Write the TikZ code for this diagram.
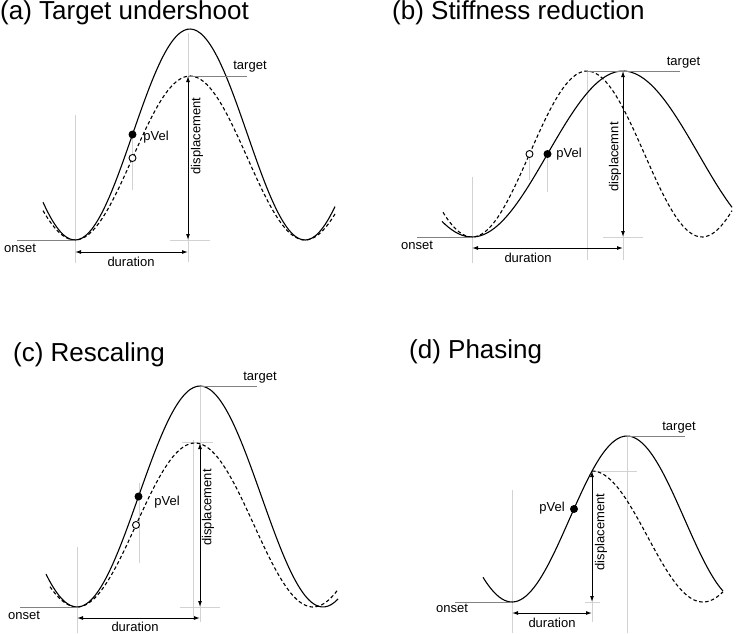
\documentclass[tikz,border=0pt]{standalone}
\usepackage{fontspec}
\setmainfont{Liberation Sans}
\usepackage{tikz}
\usetikzlibrary{arrows.meta,positioning}
\definecolor{guidegray}{RGB}{210,210,210}
\definecolor{leadgray}{RGB}{130,130,130}

\begin{document}
\begin{tikzpicture}[x=1pt,y=-1pt,
  every node/.style={font=\fontsize{13}{15}\selectfont,inner sep=0pt},
  ttl/.style={font=\fontsize{26}{30}\selectfont,anchor=base west},
  curve/.style={line width=1.1pt,smooth,samples=90},
  dcurve/.style={curve,dash pattern=on 3.5pt off 2.5pt},
  guide/.style={guidegray,line width=0.8pt},
  lead/.style={leadgray,line width=0.9pt},
  dim/.style={{Latex[length=6pt,width=4pt]}-{Latex[length=6pt,width=4pt]},line width=1pt},
  fdot/.style={circle,fill=black,minimum size=8pt},
  odot/.style={circle,draw=black,fill=white,line width=0.9pt,minimum size=7pt}]
\useasboundingbox (0,0) rectangle (740,633);

% (a) target undershoot
\node[ttl] (titleA) at (0,19.5) {(a) Target undershoot};
\draw[guide] (75,115)--(75,263);
\draw[guide] (132.5,133)--(132.5,190);
\draw[guide] (188,33)--(188,262);
\draw[guide] (170,240)--(210,240);
\draw[curve] plot[domain=43:335] (\x,{134.5+105.5*cos((\x-75)/115*180)});
\draw[dcurve] plot[domain=43:335] (\x,{158+82*cos((\x-75)/115*180)});
\coordinate (topA) at (188,76);
\coordinate (botA) at (188,240);
\coordinate (tgtA) at (247,76);
\coordinate (onA) at (75,240);
\coordinate (onEndA) at (17,240);
\coordinate (durL) at (75,252);
\coordinate (durR) at (188,252);
\draw[lead] (topA)--(tgtA);
\draw[lead] (onEndA)--(onA);
\draw[dim] (topA)--(botA);
\draw[dim] (durL)--(durR);
\node[fdot] (velA) at (132.5,134.5) {};
\node[odot] (velAo) at (132.5,158) {};
\node (pvelA) at (156,137) {pVel};
\node (targetA) at (250,67) {target};
\node (onsetA) at (20,248) {onset};
\node (durA) at (131,262) {duration};
\node[rotate=90] (dispA) at (197,136) {displacement};

% (b) stiffness reduction
\node[ttl] (titleB) at (392,19.5) {(b) Stiffness reduction};
\draw[guide] (472,177)--(472,263);
\draw[guide] (529.5,154)--(529.5,180);
\draw[guide] (547.5,154)--(547.5,192);
\draw[guide] (587,72)--(587,260);
\draw[guide] (623,71)--(623,260);
\draw[guide] (603,237)--(643,237);
\draw[curve] plot[domain=442:732] (\x,{154+83*cos((\x-472)/151*180)});
\draw[dcurve] plot[domain=443:732] (\x,{154+83*cos((\x-472)/115*180)});
\coordinate (pkB) at (587,71);
\coordinate (topB) at (623,71);
\coordinate (botB) at (623,237);
\coordinate (tgtB) at (680,71);
\coordinate (onB) at (472,237);
\coordinate (onEndB) at (417,237);
\coordinate (durBL) at (472,248);
\coordinate (durBR) at (623,248);
\draw[lead] (pkB)--(tgtB);
\draw[lead] (onEndB)--(onB);
\draw[dim] (topB)--(botB);
\draw[dim] (durBL)--(durBR);
\node[odot] (velBo) at (529.5,154) {};
\node[fdot] (velB) at (547.5,154) {};
\node (pvelB) at (569,154) {pVel};
\node (targetB) at (683.5,63) {target};
\node (onsetB) at (417,245) {onset};
\node (durB) at (528,258) {duration};
\node[rotate=90] (dispB) at (615,157) {displacemnt};

% (c) rescaling
\node[ttl] (titleC) at (13,361.5) {(c) Rescaling};
\draw[guide] (77,547)--(77,633);
\draw[guide] (139,483)--(139,563);
\draw[guide] (200,386)--(200,622);
\draw[guide] (193,440)--(193,620);
\draw[guide] (182,442)--(213,442);
\draw[guide] (180,607)--(220,607);
\draw[curve] plot[domain=46:338] (\x,{496.5+110.5*cos((\x-77)/123*180)});
\draw[dcurve] plot[domain=50:338] (\x,{525+82*cos((\x-77)/118*180)});
\coordinate (pkC) at (200,386);
\coordinate (tgtC) at (257,386);
\coordinate (topC) at (200,443);
\coordinate (botC) at (200,607);
\coordinate (onC) at (77,607);
\coordinate (onEndC) at (20,607);
\coordinate (durCL) at (77,618);
\coordinate (durCR) at (200,618);
\draw[lead] (pkC)--(tgtC);
\draw[lead] (onEndC)--(onC);
\draw[dim] (topC)--(botC);
\draw[dim] (durCL)--(durCR);
\node[fdot] (velC) at (138.5,496.5) {};
\node[odot] (velCo) at (136,525) {};
\node (pvelC) at (167,502) {pVel};
\node (targetC) at (260,378) {target};
\node (onsetC) at (24,615) {onset};
\node (durC) at (135,627) {duration};
\node[rotate=90] (dispC) at (208,507.5) {displacement};

% (d) phasing
\node[ttl] (titleD) at (409,358.5) {(d) Phasing};
\draw[guide] (512,490)--(512,633);
\draw[guide] (627,436)--(627,633);
\draw[guide] (592,471)--(592,622);
\draw[guide] (592,471)--(637,471);
\draw[guide] (585,602)--(600,602);
\draw[curve] plot[domain=483:723] (\x,{519+83*cos((\x-512)/115*180)});
\draw[dcurve] plot[domain=592:723] (\x,{536.5-65.5*cos((\x-592)/111*180)});
\coordinate (pkD) at (627,436);
\coordinate (tgtD) at (685,436);
\coordinate (topD) at (592,471);
\coordinate (botD) at (592,602);
\coordinate (onD) at (512,602);
\coordinate (onEndD) at (455,602);
\coordinate (durDL) at (512,613);
\coordinate (durDR) at (592,613);
\draw[lead] (pkD)--(tgtD);
\draw[lead] (onEndD)--(onD);
\draw[dim] (topD)--(botD);
\draw[dim] (durDL)--(durDR);
\node[fdot] (velD) at (574,509) {};
\node (pvelD) at (552,508) {pVel};
\node (targetD) at (679,428) {target};
\node (onsetD) at (452,608) {onset};
\node (durD) at (552,623) {duration};
\node[rotate=90] (dispD) at (601,532) {displacement};
\end{tikzpicture}
\end{document}
